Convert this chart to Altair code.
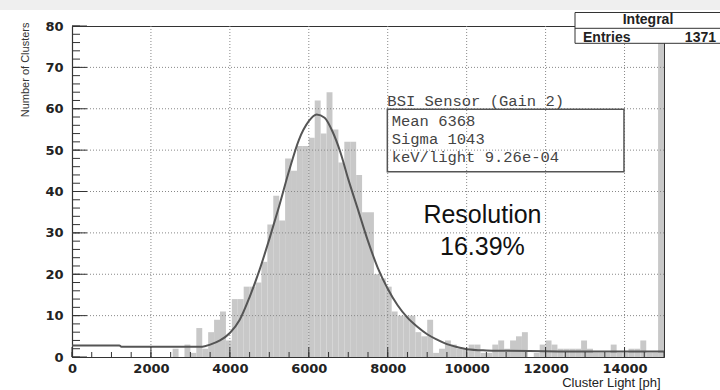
import altair as alt
import pandas as pd

# ---------------- data ----------------
BIN_WIDTH = 150
bin_counts = [0] * 17 + [
    2, 0, 3, 1, 7, 2, 6, 9, 11, 4,
    14, 14, 17, 17, 18, 23, 32, 39, 33,
    48, 45, 51, 51, 53, 62, 54, 64, 55,
    47, 52, 52, 44, 35, 35, 20, 19, 17,
    11, 10, 10, 10, 6, 5, 9,
    1, 2, 4, 3, 2, 2, 3, 3, 1, 1, 3, 4, 2, 4, 5, 6,
    0, 1, 3, 4, 3, 2, 2, 2, 2, 4, 2, 1, 1, 1, 3, 1, 1, 2, 2, 4, 1, 1,
    80,
]

fit_x = [0, 1200, 1250, 3300, 3500, 3750, 4000, 4250, 4500, 4750, 5000, 5250,
         5500, 5750, 6000, 6200, 6400, 6600, 6800, 7000, 7250, 7500, 7750,
         8000, 8250, 8500, 8750, 9000, 9250, 9500, 9750, 10000, 10500, 11000,
         12000, 13000, 15000]
fit_y = [2.8, 2.8, 2.5, 2.5, 3.0, 4.0, 5.8, 9.0, 14.5, 21.0, 28.5, 36.5,
         45.0, 52.5, 57.0, 58.6, 57.8, 54.5, 49.5, 43.0, 35.5, 28.0, 21.5,
         16.5, 12.5, 9.5, 7.3, 5.5, 4.2, 3.1, 2.4, 1.9, 1.6, 1.5,
         1.4, 1.3, 1.3]

x_labels = [0, 2000, 4000, 6000, 8000, 10000, 12000, 14000]
y_labels = [0, 10, 20, 30, 40, 50, 60, 70, 80]
x_minor = list(range(0, 15001, 500))
y_minor = list(range(0, 81, 2))
x_grid = [2000, 4000, 6000, 8000, 10000, 12000, 14000]
y_grid = [10, 20, 30, 40, 50, 60, 70]

stat_title = "BSI Sensor (Gain 2)"
stat_lines = ["Mean 6368", "Sigma 1043", "keV/light 9.26e-04"]
res_lines = ["Resolution", "16.39%"]
entries = 1371

# ---------------- tables ----------------
hist = pd.DataFrame({
    "start": [i * BIN_WIDTH for i in range(len(bin_counts))],
    "end": [(i + 1) * BIN_WIDTH for i in range(len(bin_counts))],
    "count": bin_counts,
})
fit = pd.DataFrame({"x": fit_x, "y": fit_y})

W, H = 592, 331
xs = alt.Scale(domain=[0, 15000], nice=False, zero=False)
ys = alt.Scale(domain=[0, 80], nice=False)

one = alt.Data(values=[{"a": 1}])

strip = alt.Chart(one).mark_rect(color="#efefef").encode(
    x=alt.value(-72), x2=alt.value(700), y=alt.value(-26), y2=alt.value(-16))

bars = alt.Chart(hist).mark_rect(color="#c8c8c8", clip=True).encode(
    x=alt.X("start:Q", scale=xs, axis=alt.Axis(
        values=x_labels, format="d", ticks=False, grid=False,
        labelFont="DejaVu Sans", labelFontWeight="bold", labelFontSize=13,
        labelColor="#222", labelPadding=5, labelFlush=False, labelOverlap=False,
        domainColor="#333", domainWidth=1.2,
        title="Cluster Light [ph]", titleFont="Liberation Sans",
        titleFontSize=13, titleFontWeight="normal", titleColor="#222",
        titleAlign="right", titleBaseline="alphabetic", titleX=588, titleY=29)),
    x2="end:Q",
    y=alt.Y("count:Q", scale=ys, axis=alt.Axis(
        values=y_labels, ticks=False, grid=False,
        labelFont="DejaVu Sans", labelFontWeight="bold", labelFontSize=13,
        labelColor="#222", labelPadding=9, labelFlush=False,
        domainColor="#333", domainWidth=1.2,
        title="Number of Clusters",
        titleFont="Liberation Sans",
        titleFontSize=11, titleFontWeight="normal", titleColor="#333",
        titleAngle=270, titleAlign="right", titleBaseline="middle",
        titleX=-47, titleY=-4)),
    y2=alt.datum(0),
)

hgrid = alt.Chart(pd.DataFrame({"v": y_grid})).mark_rule(
    color="#888", strokeDash=[1, 2], strokeWidth=1).encode(
    y=alt.Y("v:Q", scale=ys), x=alt.value(0), x2=alt.value(W))
vgrid = alt.Chart(pd.DataFrame({"v": x_grid})).mark_rule(
    color="#888", strokeDash=[1, 2], strokeWidth=1).encode(
    x=alt.X("v:Q", scale=xs), y=alt.value(0), y2=alt.value(H))

line = alt.Chart(fit).mark_line(color="#555", strokeWidth=2,
                                interpolate="monotone").encode(
    x=alt.X("x:Q", scale=xs), y=alt.Y("y:Q", scale=ys))

ymaj = alt.Chart(pd.DataFrame({"v": y_labels})).mark_rule(color="#333").encode(
    y=alt.Y("v:Q", scale=ys), x=alt.value(0), x2=alt.value(15))
ymin = alt.Chart(pd.DataFrame({"v": y_minor})).mark_rule(color="#333").encode(
    y=alt.Y("v:Q", scale=ys), x=alt.value(0), x2=alt.value(8))
xmaj = alt.Chart(pd.DataFrame({"v": x_labels})).mark_rule(color="#333").encode(
    x=alt.X("v:Q", scale=xs), y=alt.value(H), y2=alt.value(H - 10))
xmin = alt.Chart(pd.DataFrame({"v": x_minor})).mark_rule(color="#333").encode(
    x=alt.X("v:Q", scale=xs), y=alt.value(H), y2=alt.value(H - 5))

# stats box (data coordinates)
box = alt.Chart(one).mark_rect(fillOpacity=0, stroke="#555", strokeWidth=1.5).encode(
    x=alt.datum(7990, scale=xs), x2=alt.datum(13986),
    y=alt.datum(59.9, scale=ys), y2=alt.datum(44.8))
stat_df = pd.DataFrame({
    "x": [7990, 8100, 8100, 8100],
    "y": [60.55, 55.85, 51.5, 47.15],
    "t": [stat_title] + stat_lines,
})
stat_txt = alt.Chart(stat_df).mark_text(
    align="left", baseline="alphabetic", font="Liberation Mono",
    fontSize=15.5, color="#444").encode(
    x=alt.X("x:Q", scale=xs), y=alt.Y("y:Q", scale=ys), text="t:N")

res_df = pd.DataFrame({"x": [10400, 10400], "y": [32.3, 24.6], "t": res_lines})
res_txt = alt.Chart(res_df).mark_text(
    align="center", baseline="alphabetic", font="Liberation Sans",
    fontSize=25, color="#111").encode(
    x=alt.X("x:Q", scale=xs), y=alt.Y("y:Q", scale=ys), text="t:N")

# Integral / Entries box (top right, outside the frame)
ibox = alt.Chart(one).mark_rect(fill="white", stroke="#333", strokeWidth=1).encode(
    x=alt.value(503), x2=alt.value(660), y=alt.value(-13.5), y2=alt.value(17.3))
idiv = alt.Chart(one).mark_rule(color="#333").encode(
    x=alt.value(503), x2=alt.value(660), y=alt.value(2.3))

txt_layers = []
for t, px, py, al in [("Integral", 576, -2, "center"), ("Entries", 511, 15.5, "left"),
                      (str(entries), 644, 15.5, "right")]:
    txt_layers.append(alt.Chart(one).mark_text(
        align=al, baseline="alphabetic", font="Liberation Sans", fontSize=14,
        fontWeight="bold", color="#222", text=t).encode(
        x=alt.value(px), y=alt.value(py)))

chart = alt.layer(
    strip, bars, hgrid, vgrid, line, ymaj, ymin, xmaj, xmin,
    box, stat_txt, res_txt, ibox, idiv, *txt_layers,
).properties(
    width=W, height=H,
    padding={"left": 72, "top": 26, "right": 56, "bottom": 33},
    autosize=alt.AutoSizeParams(type="none"),
    background="white",
).configure_view(stroke="#333", strokeWidth=1)

chart.save("out.html", embed_options={"renderer": "svg", "actions": False})
